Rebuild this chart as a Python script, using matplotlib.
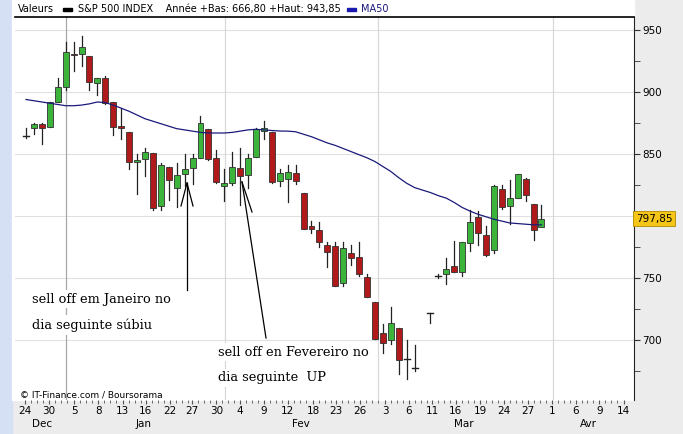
import matplotlib
matplotlib.use("Agg")
import matplotlib.pyplot as plt
from matplotlib.lines import Line2D
from matplotlib.patches import Rectangle

# sessions (trading slot index), OHLC
sessions = list(range(0, 50)) + list(range(51, 66))
opens  = [864.5,871,874,872,892,904,931,931,929,907,911,892,873,868,843.5,846,851,808,840,823,834,839,847,870,847,824,827,839,833,848,869,868,828,830,835,
          819,792,789,777,776,746,770,767,751,731,706,700,710,685,677.5,
          722.3,752,753,760,755,778,799,785,773,822,808,815,830,810,791]
closes = [864.5,874,871,892,904,932,930,936,908,911,891,872,871,844,845,851.5,806.5,841.5,829,833,838,847,875,846,827.5,826.5,839.5,832,847,870,871,827.5,835,835.5,828,
          790,789.5,779,771,744,774,766,753,735,701,698,714,684,685,677.5,
          722.3,752,757,755,779,795,786,769,824,807.5,815,834,817,789,797.85]
highs  = [871,875,875,892,911,940,940,945,929,911,913,892,887,868,850,855,851,843,840,843,850,850,881,870,853,838,852,855,850,871,877,868,838,841,841,
          819,796,795,779,779,779,777,779,753,731,713,727,710,700,696,
          722.3,753,766,780,779,805,804,792,825,825,829,834,831,810,809]
lows   = [863,866,858,872,892,902,917,921,902,898,890,865,862,838,818,832,805,805,813,807,824,826,847,845,827,812,825,809,823,848,862,827,824,811,826,
          790,786,775,759,744,744,761,752,735,701,690,697,673,669,675,
          714,750,745,755,752,772,777,768,770,806,794,815,812,781,797]
ma50_sessions = list(range(0, 50)) + list(range(51, 66))
ma50 = [894,893,892,891,890,889,889,889.5,890.5,892,891.5,889.5,887,884.5,881.5,878.5,876.5,874.5,872.5,870.5,869.5,868.5,867.5,867,867,867,867.5,868.5,869.5,870,869.5,869,
        868.6,868.5,868,866,864,861.5,859,857,854.5,852,849.5,847,844,840,836,831,826.5,823,
        819,816.5,814.5,811,807,804,801.5,799.5,797.5,796,794.5,794,793.5,793,793]

tick_sessions = [-0.1,2.9,6.1,9.1,12.2,15.1,18.2,20.9,24.0,27.0,30.0,33.0,36.2,39.1,42.1,45.3,48.3,51.2,54.2,57.3,60.3,63.3,66.3,69.3,72.3,75.4]
tick_labels = ["24","30","5","8","13","16","22","27","30","4","9","12","18","23","26","3","6","11","16","19","24","27","1","6","9","14"]
month_sessions = [2.0,14.8,34.6,55.2,70.9]
month_labels = ["Dec","Jan","Fev","Mar","Avr"]
month_grid = [5.0,25.1,44.4,66.5]
yticks = [700,750,800,850,900,950]

W, H = 683, 434
fig = plt.figure(figsize=(W/100, H/100), dpi=100)
fig.patch.set_facecolor("#ececec")
def fx(p): return p / W
def fy(p): return 1 - p / H
fig.add_artist(Rectangle((0, 0), fx(12), 1, transform=fig.transFigure, color="#d6e0f5", zorder=0))
fig.add_artist(Rectangle((fx(12), fy(400)), fx(622), fy(0)-fy(400), transform=fig.transFigure, color="white", zorder=0))

ax = fig.add_axes([fx(15), fy(400), fx(619), fy(17) - fy(400)])
ax.set_facecolor("white")
ax.set_xlim(-1.39, 76.67)
ax.set_ylim(651.8, 960.5)
for v in yticks:
    ax.axhline(v, color="#e0e0e0", lw=0.8, zorder=0)
for s in month_grid:
    ax.axvline(s, color="#d8d8d8" if s != 5.0 else "#a8a8a8", lw=0.9, zorder=0)

w = 0.75
for s, o, c, h, l in zip(sessions, opens, closes, highs, lows):
    ax.plot([s, s], [l, h], color="#222222", lw=0.9, zorder=2)
    if abs(c - o) < 0.6:
        ax.plot([s - w/2, s + w/2], [o, o], color="#222222", lw=1.0, zorder=3)
    else:
        col = "#3cb43c" if c > o else "#b01a1a"
        ax.add_patch(Rectangle((s - w/2, min(o, c)), w, abs(c - o), facecolor=col,
                               edgecolor="#303030", lw=0.6, zorder=3))
ax.plot(ma50_sessions, ma50, color="#1a1a7a", lw=0.9, zorder=4)

ax.yaxis.tick_right()
ax.set_yticks(yticks)
ax.set_yticklabels([str(v) if v != 800 else "" for v in yticks], fontsize=7.5, family="DejaVu Sans")
ax.set_yticks(range(675, 960, 50), minor=True)
ax.tick_params(axis="y", which="both", length=4, pad=2, color="#333333")
ax.set_xticks(tick_sessions)
ax.set_xticklabels(tick_labels, fontsize=7.5)
ax.tick_params(axis="x", length=3, pad=1.5, color="#555555")
ax.set_xticks([t + 0.75 * k for t in tick_sessions[:-1] for k in (1, 2, 3)], minor=True)
ax.tick_params(axis="x", which="minor", length=2, color="#555555")
for sp in ["top", "left", "bottom"]:
    ax.spines[sp].set_visible(False)
ax.spines["right"].set_color("#222222")
for s, m in zip(month_sessions, month_labels):
    ax.text(s, -0.062, m, transform=ax.get_xaxis_transform(), ha="center", va="center", fontsize=7.5)

ax.text(1.003, (797.85 - 651.8) / (960.5 - 651.8), "797,85", transform=ax.transAxes, ha="left", va="center",
        fontsize=7.5, bbox=dict(boxstyle="square,pad=0.25", fc="#f5c518", ec="#b08a00", lw=0.6))

# header
fig.add_artist(Line2D([fx(15), fx(634)], [fy(17), fy(17)], transform=fig.transFigure, color="black", lw=1.2))
fig.text(fx(18), fy(9), "Valeurs", fontsize=7, va="center")
fig.add_artist(Rectangle((fx(63), fy(11)), fx(9), fy(8)-fy(11), transform=fig.transFigure, color="black"))
fig.text(fx(78), fy(9), "S&P 500 INDEX    Année +Bas: 666,80 +Haut: 943,85", fontsize=7, va="center")
fig.add_artist(Rectangle((fx(347), fy(11)), fx(9), fy(8)-fy(11), transform=fig.transFigure, color="#1a1ab0"))
fig.text(fx(361), fy(9), "MA50", fontsize=7, va="center", color="#1a1a7a")
fig.text(fx(20), fy(395), "© IT-Finance.com / Boursorama", fontsize=6.5, va="center")

# annotations
ann = dict(fontsize=9.3, family="DejaVu Serif", va="center",
           bbox=dict(fc="white", ec="none", pad=2))
fig.text(fx(32), fy(299), "sell off em Janeiro no", **ann)
fig.text(fx(32), fy(325), "dia seguinte súbiu", **ann)
fig.text(fx(218), fy(352), "sell off en Fevereiro no", **ann)
fig.text(fx(218), fy(378), "dia seguinte  UP", **ann)
def L(x0, y0, x1, y1):
    fig.add_artist(Line2D([fx(x0), fx(x1)], [fy(y0), fy(y1)], transform=fig.transFigure, color="black", lw=0.9))
L(187, 183, 187, 290); L(187, 183, 181, 206); L(187, 183, 193, 206)
L(242, 182, 266, 338); L(242, 182, 252, 212)

fig.savefig("out.png", dpi=100)
